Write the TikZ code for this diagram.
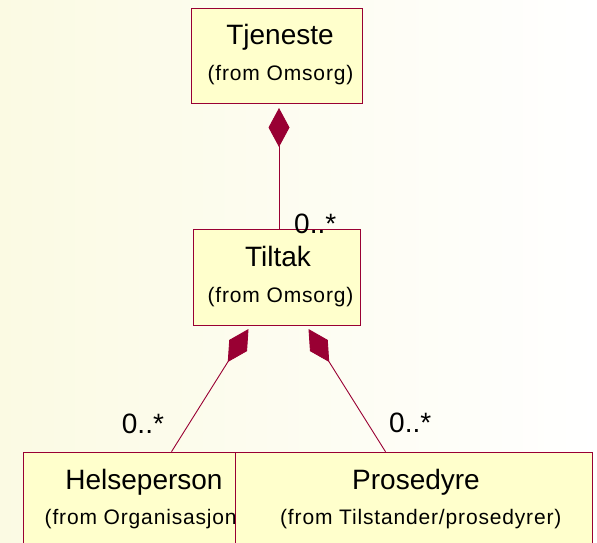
\documentclass[tikz,border=0pt]{standalone}
\usepackage{fontspec}
\setmainfont{Liberation Sans}
\newfontfamily\smallf[LetterSpace=4]{Liberation Sans}
\usetikzlibrary{arrows.meta,calc}
\definecolor{umlred}{HTML}{990033}
\definecolor{umlfill}{HTML}{FFFFCC}
\definecolor{bgleft}{HTML}{FBFAE3}
\definecolor{bgmid}{HTML}{FDFCEC}
\begin{document}
\begin{tikzpicture}[x=1pt,y=-1pt,
  classbox/.style={draw=umlred, fill=umlfill, line width=1pt, inner sep=0pt, anchor=north west},
  title/.style={font=\fontsize{28}{30}\selectfont, anchor=base, inner sep=0pt},
  origin/.style={font=\smallf\fontsize{21}{24}\selectfont, anchor=base, inner sep=0pt},
  mult/.style={font=\fontsize{28}{30}\selectfont, anchor=base west, inner sep=0pt},
  comp/.style={draw=umlred, line width=0.9pt, {Diamond[length=39pt,width=21pt,fill=umlred]}-}
]
\useasboundingbox (0,0) rectangle (597,543);
\clip (0,0) rectangle (597,543);
\shade[left color=bgleft, middle color=bgmid, right color=white] (0,0) rectangle (597,543);

\node[classbox, minimum width=171pt, minimum height=95pt] (tjeneste) at (191,8) {};
\node[title] (tjenesteT) at (280,45) {Tjeneste};
\node[origin] (tjenesteO) at (280.5,81) {(from Omsorg)};

\node[classbox, minimum width=167pt, minimum height=96pt] (tiltak) at (193,229) {};
\node[title] (tiltakT) at (278,266.7) {Tiltak};
\node[origin] (tiltakO) at (280.5,302) {(from Omsorg)};

\node[classbox, minimum width=236pt, minimum height=110pt] (helse) at (23,451.7) {};
\node[title] (helseT) at (144,489.3) {Helseperson};
\node[origin, anchor=base west] (helseO) at (44.5,524.3) {(from Organisasjon)};

\node[classbox, minimum width=356.7pt, minimum height=110pt] (prosedyre) at (235,451.7) {};
\node[title] (prosedyreT) at (416,489) {Prosedyre};
\node[origin] (prosedyreO) at (420.8,524) {(from Tilstander/prosedyrer)};

\draw[comp] ([xshift=2pt,yshift=-4pt]tjeneste.south) -- ([xshift=2pt]tiltak.north);
\draw[comp] ([xshift=-28.5pt,yshift=-3pt]tiltak.south) -- ([xshift=30pt]helse.north);
\draw[comp] ([xshift=31.5pt,yshift=-3pt]tiltak.south) -- ([xshift=-28.35pt]prosedyre.north);

\node[mult] (m1) at (294,233) {0..*};
\node[mult] (m2) at (121.7,433) {0..*};
\node[mult] (m3) at (389,432) {0..*};
\end{tikzpicture}
\end{document}
